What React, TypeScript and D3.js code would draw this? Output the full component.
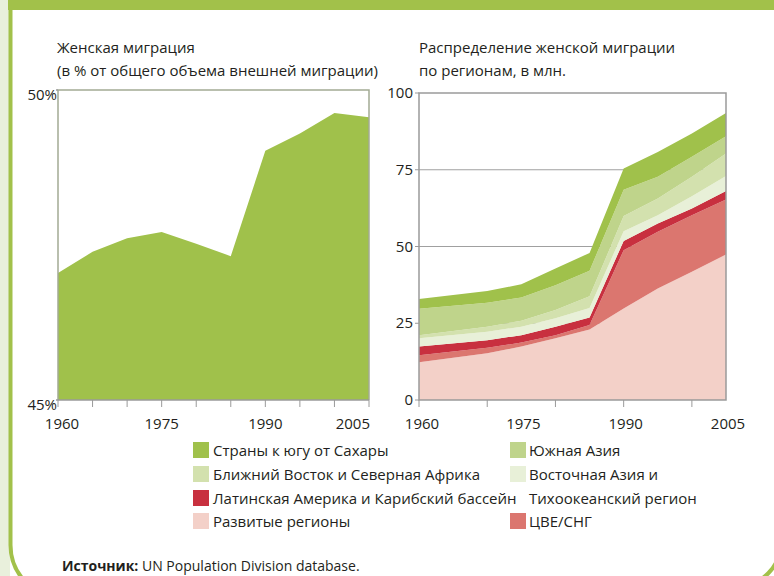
import React from 'react';
import * as d3 from 'd3';

// Left chart: female share of international migrants, %
const shareYears = [1960, 1965, 1970, 1975, 1980, 1985, 1990, 1995, 2000, 2005];
const shareValues = [47.05, 47.39, 47.61, 47.71, 47.52, 47.32, 49.02, 49.3, 49.63, 49.56];

// Right chart: female migrants by region, millions (stacked bottom -> top)
const regionYears = [1960, 1970, 1975, 1980, 1985, 1990, 1995, 2000, 2005];
const developed = [12.3, 15.2, 17.4, 20.1, 23.0, 29.8, 36.3, 41.8, 47.4];
const ceeCis = [2.3, 1.8, 1.3, 1.0, 1.4, 19.0, 18.5, 18.4, 17.9];
const latinAmerica = [2.8, 2.5, 2.4, 2.8, 2.5, 3.0, 2.7, 2.2, 2.8];
const eastAsia = [2.7, 2.7, 2.8, 2.7, 3.1, 3.2, 2.7, 4.0, 4.9];
const middleEast = [1.0, 1.7, 1.9, 2.7, 3.8, 4.9, 5.4, 6.3, 7.3];
const southAsia = [8.6, 7.8, 7.6, 8.1, 8.3, 8.6, 7.1, 6.5, 5.6];
const subSahara = [3.2, 3.8, 4.3, 5.4, 5.8, 6.9, 8.1, 7.6, 7.6];

const leftTicksY = [45, 50];
const rightTicksY = [0, 25, 50, 75, 100];
const xLabels = [1960, 1975, 1990, 2005];

const seriesKeys = ['developed', 'cee', 'latin', 'eastAsia', 'middleEast', 'southAsia', 'sahara'];
const seriesColors: Record<string, string> = {
  developed: '#f3d0c8',
  cee: '#db766f',
  latin: '#c8303f',
  eastAsia: '#e8f0d8',
  middleEast: '#d3e1ae',
  southAsia: '#bfd48b',
  sahara: '#a0c14b',
};

const legendLeft = [
  { key: 'sahara', label: 'Страны к югу от Сахары' },
  { key: 'middleEast', label: 'Ближний Восток и Северная Африка' },
  { key: 'latin', label: 'Латинская Америка и Карибский бассейн' },
  { key: 'developed', label: 'Развитые регионы' },
];
const legendRight = [
  { key: 'southAsia', label: ['Южная Азия'] },
  { key: 'eastAsia', label: ['Восточная Азия и', 'Тихоокеанский регион'] },
  { key: 'cee', label: ['ЦВЕ/СНГ'], row: 3 },
];

const FONT = '"Open Sans", sans-serif';
const TEXT = '#231f20';

export default function App() {
  // left chart
  const lx = d3.scaleLinear().domain([1960, 2005]).range([58, 369]);
  const ly = d3.scaleLinear().domain([45, 50]).range([400, 90]);
  const leftArea = d3.area<number>()
    .x((_, i) => lx(shareYears[i]))
    .y0(ly(45))
    .y1(d => ly(d))(shareValues) as string;

  // right chart
  const rx = d3.scaleLinear().domain([1960, 2005]).range([419, 726]);
  const ry = d3.scaleLinear().domain([0, 100]).range([400, 93]);
  const table = regionYears.map((year, i) => ({
    year,
    developed: developed[i],
    cee: ceeCis[i],
    latin: latinAmerica[i],
    eastAsia: eastAsia[i],
    middleEast: middleEast[i],
    southAsia: southAsia[i],
    sahara: subSahara[i],
  }));
  const stacked = d3.stack<any>().keys(seriesKeys)(table);
  const makeArea = d3.area<any>()
    .x(d => rx(d.data.year))
    .y0(d => ry(d[0]))
    .y1(d => ry(d[1]));

  const rowY = [450, 474, 498, 521];

  return (
    <svg width={774} height={576} style={{ position: 'absolute', left: 0, top: 0 }} fontFamily={FONT}>
      <rect width={774} height={576} fill="#fff" />
      {/* frame */}
      <rect x={0} y={0} width={10} height={576} fill="#e9f0dc" />
      <rect x={8} y={0} width={766} height={10} fill="#a2c14a" />
      <path d="M10.5,10 V545 A53,53 0 0 0 63.5,598" fill="none" stroke="#a2c14a" strokeWidth={4} />
      <path d="M780,500 V545 A40,40 0 0 1 740,585" fill="none" stroke="#a2c14a" strokeWidth={4} />

      {/* titles */}
      <g fill={TEXT} fontSize={15}>
        <text x={57} y={53}>Женская миграция</text>
        <text x={57} y={76}>(в % от общего объема внешней миграции)</text>
        <text x={419} y={53}>Распределение женской миграции</text>
        <text x={419} y={76}>по регионам, в млн.</text>
      </g>

      {/* left chart */}
      <path d={leftArea} fill="#a0c14b" />
      <path d={`M${lx(1960)},${ly(45)} V${ly(50)} H${lx(2005)} V${ly(45)}`} fill="none" stroke="#a3ab94" strokeWidth={1.5} />
      <line x1={lx(1960) - 2} x2={lx(2005)} y1={ly(45)} y2={ly(45)} stroke="#9a9a9a" strokeWidth={1.5} />
      <line x1={lx(1960) - 2} x2={lx(1960)} y1={ly(50)} y2={ly(50)} stroke="#9a9a9a" strokeWidth={1.5} />
      {shareYears.map(y => (
        <line key={y} x1={lx(y)} x2={lx(y)} y1={ly(45)} y2={ly(45) + 7} stroke="#9a9a9a" strokeWidth={1} />
      ))}
      {leftTicksY.map(t => (
        <text key={t} x={lx(1960) - 1} y={ly(t) + 10} textAnchor="end" fontSize={15} fill={TEXT}>{t}%</text>
      ))}
      {xLabels.map((y, i) => (
        <text key={y} x={i === 0 ? lx(y) + 4 : i === 3 ? lx(y) + 1 : lx(y)} y={429}
          textAnchor={i === 3 ? 'end' : 'middle'} fontSize={15} fill={TEXT}>{y}</text>
      ))}

      {/* right chart */}
      {[25, 50, 75].map(t => (
        <line key={t} x1={rx(1960)} x2={rx(2005)} y1={ry(t)} y2={ry(t)} stroke="#a0a0a0" strokeWidth={1} />
      ))}
      {stacked.map(s => (
        <path key={s.key} d={makeArea(s) as string} fill={seriesColors[s.key]} />
      ))}
      <rect x={rx(1960)} y={ry(100)} width={rx(2005) - rx(1960)} height={ry(0) - ry(100)} fill="none" stroke="#9a9a9a" strokeWidth={1.5} />
      {rightTicksY.map(t => (
        <g key={t}>
          <line x1={rx(1960) - 4} x2={rx(1960)} y1={ry(t)} y2={ry(t)} stroke="#9a9a9a" strokeWidth={1} />
          <text x={rx(1960) - 6} y={ry(t) + 5} textAnchor="end" fontSize={15} fill={TEXT}>{t}</text>
        </g>
      ))}
      {[1960, 1970, 1980, 1990, 2000].map(y => (
        <line key={y} x1={rx(y)} x2={rx(y)} y1={ry(0)} y2={ry(0) + 7} stroke="#9a9a9a" strokeWidth={1} />
      ))}
      {xLabels.map((y, i) => (
        <text key={y} x={i === 0 ? rx(y) + 3 : rx(y) + 2} y={429} textAnchor="middle" fontSize={15} fill={TEXT}>{y}</text>
      ))}

      {/* legend */}
      <g fontSize={15} fill={TEXT}>
        {legendLeft.map((d, i) => (
          <g key={d.key}>
            <rect x={193} y={rowY[i] - 8} width={16} height={16} fill={seriesColors[d.key]} />
            <text x={213} y={rowY[i] + 6}>{d.label}</text>
          </g>
        ))}
        {legendRight.map((d, i) => {
          const r = d.row ?? i;
          return (
            <g key={d.key}>
              <rect x={510} y={rowY[r] - 8} width={16} height={16} fill={seriesColors[d.key]} />
              {d.label.map((l, j) => (
                <text key={l} x={529} y={rowY[r + j] + 6}>{l}</text>
              ))}
            </g>
          );
        })}
      </g>

      {/* source */}
      <text x={62} y={571} fontSize={14} fill={TEXT}>
        <tspan fontWeight="bold">Источник:</tspan> UN Population Division database.
      </text>
    </svg>
  );
}
